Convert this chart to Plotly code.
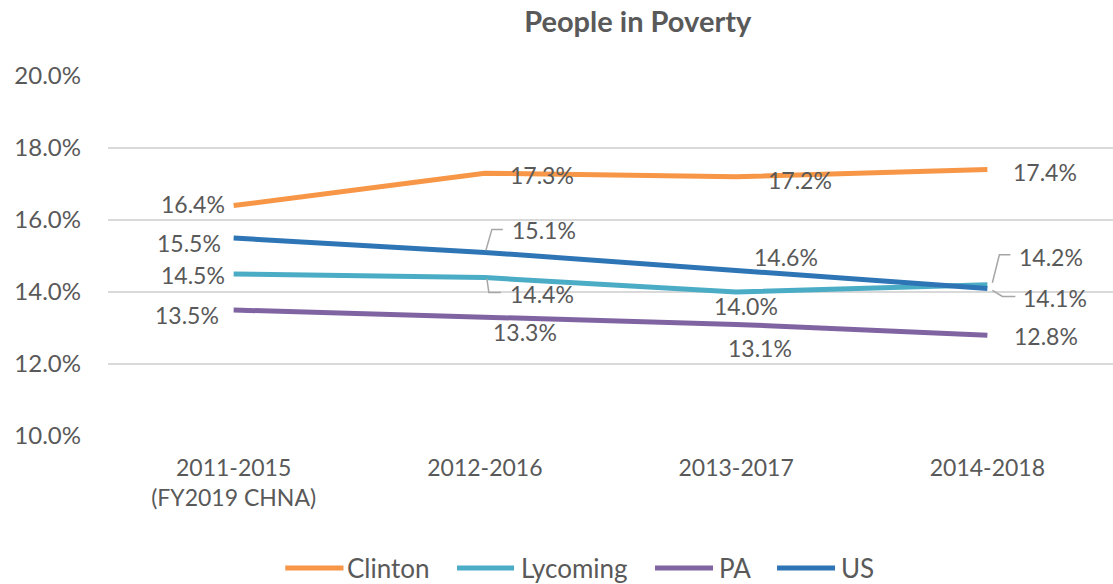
import plotly.graph_objects as go

# Reporting periods (5-year ACS estimates)
periods = ["2011-2015<br>(FY2019 CHNA)", "2012-2016", "2013-2017", "2014-2018"]

# Share of people living in poverty, percent
clinton = [16.4, 17.3, 17.2, 17.4]
lycoming = [14.5, 14.4, 14.0, 14.2]
pa = [13.5, 13.3, 13.1, 12.8]
us = [15.5, 15.1, 14.6, 14.1]

series_names = ["Clinton", "Lycoming", "PA", "US"]
series_values = [clinton, lycoming, pa, us]
series_colors = ["#F79646", "#4BACC6", "#8064A2", "#2E75B6"]

# y-axis ticks
tick_vals = [10, 12, 14, 16, 18, 20]
tick_text = ["10.0%", "12.0%", "14.0%", "16.0%", "18.0%", "20.0%"]

# Pixel offsets of each data label from its point (x right, y up)
label_offsets = {
    "Clinton": [(-41, 2), (57, -2), (64, -3), (58, -2)],
    "Lycoming": [(-41, -1), (57, -16), (10, -14), (64, 28)],
    "PA": [(-47, -5), (40, -15), (24, -24), (59, -1)],
    "US": [(-45, -5), (59, 22), (50, 13), (68, -10)],
}

# Elbow leader lines (pixel paths relative to the point, y up)
leaders = {
    ("US", 1): "M 1 2 L 7 23 L 18 23",
    ("Lycoming", 1): "M 2 -1 L 4 -15 L 16 -15",
    ("Lycoming", 3): "M 5 2 L 12 30 L 23 30",
    ("US", 3): "M 5 -2 L 15 -8 L 28 -8",
}

# Legend entries: swatch start/end and text start, in paper x; row y in paper
legend_x = [(0.1764, 0.2343, 0.2363), (0.3473, 0.4040, 0.4090),
            (0.5443, 0.6020, 0.6060), (0.6657, 0.7234, 0.7274)]
legend_y = -0.367

FONT = "Lato, 'Open Sans', sans-serif"
TEXT_COLOR = "#595959"

fig = go.Figure()
for name, vals, color in zip(series_names, series_values, series_colors):
    fig.add_trace(go.Scatter(
        x=periods, y=vals, name=name, mode="lines",
        line=dict(color=color, width=5),
        hoverinfo="skip", showlegend=False,
    ))

annotations = []
shapes = []
for name, vals in zip(series_names, series_values):
    for i, (p, v) in enumerate(zip(periods, vals)):
        dx, dy = label_offsets[name][i]
        annotations.append(dict(
            x=p, y=v, xref="x", yref="y",
            text=f"{v:.1f}%", showarrow=False,
            xshift=dx, yshift=dy,
            xanchor="center", yanchor="middle",
            font=dict(family=FONT, size=23, color=TEXT_COLOR),
        ))
        if (name, i) in leaders:
            shapes.append(dict(
                type="path", xref="x", yref="y",
                xsizemode="pixel", ysizemode="pixel",
                xanchor=p, yanchor=v,
                path=leaders[(name, i)],
                line=dict(color="#A6A6A6", width=1.5),
            ))

# Legend drawn as swatches + labels
for name, color, (x0, x1, xt) in zip(series_names, series_colors, legend_x):
    shapes.append(dict(
        type="line", xref="paper", yref="paper",
        x0=x0, x1=x1, y0=legend_y, y1=legend_y,
        line=dict(color=color, width=5),
    ))
    annotations.append(dict(
        x=xt, y=legend_y, xref="paper", yref="paper",
        text=name, showarrow=False, xanchor="left", yanchor="middle",
        font=dict(family=FONT, size=26, color=TEXT_COLOR),
    ))

fig.update_layout(
    width=1113, height=584,
    margin=dict(l=108, r=0, t=76, b=148),
    paper_bgcolor="white", plot_bgcolor="white",
    title=dict(
        text="<b>People in Poverty</b>",
        x=0.573, xanchor="center", y=0.962, yanchor="middle",
        font=dict(family=FONT, size=29, color=TEXT_COLOR),
    ),
    font=dict(family=FONT, size=22, color=TEXT_COLOR),
    xaxis=dict(
        type="category", range=[-0.5, 3.5],
        showgrid=False, showline=False, zeroline=False,
        ticks="", ticklabelstandoff=16,
        tickfont=dict(family=FONT, size=23, color=TEXT_COLOR),
        fixedrange=True,
    ),
    yaxis=dict(
        range=[10, 20], tickvals=tick_vals, ticktext=tick_text,
        showgrid=True, gridcolor="#D9D9D9", gridwidth=1.5,
        zeroline=False, showline=False, ticks="",
        ticklabelstandoff=26,
        tickfont=dict(family=FONT, size=24, color=TEXT_COLOR),
        fixedrange=True,
    ),
    annotations=annotations,
    shapes=shapes,
    showlegend=False,
)

fig.write_html("out.html")
